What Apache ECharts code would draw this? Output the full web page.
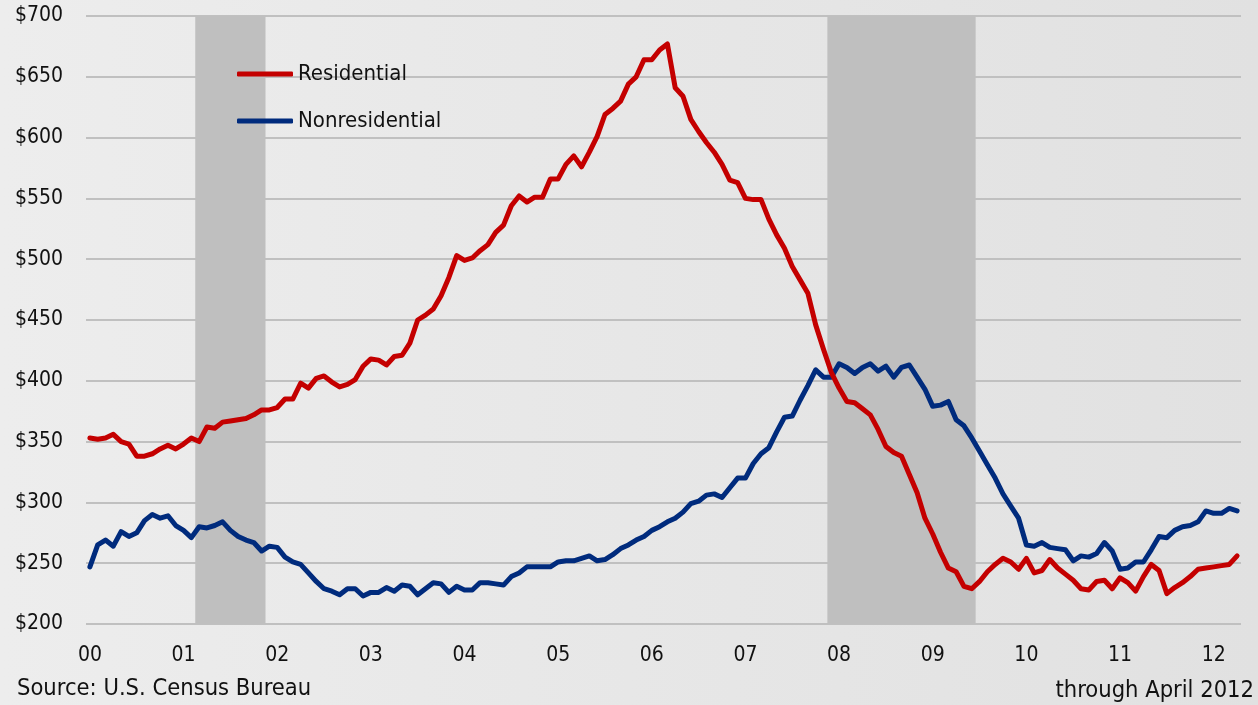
<!DOCTYPE html>
<html>
<head>
<meta charset="utf-8">
<script src="https://cdn.jsdelivr.net/npm/echarts@6/dist/echarts.min.js"></script>
<style>
html,body{margin:0;padding:0;background:#ebebeb;}
#chart{width:1258px;height:705px;}
</style>
</head>
<body>
<div id="chart"></div>
<script>
// Year labels (axis tick labels, Jan of each year)
var yearLabels = ['00','01','02','03','04','05','06','07','08','09','10','11','12'];
var lastYearMonths = 4; // data through April 2012

// Monthly construction spending, billions of dollars (Jan 2000 - Apr 2012)
var residential = [
  353,352,353,356,350,348,338,338,340,344,347,344,
  348,353,350,362,361,366,367,368,369,372,376,376,
  378,385,385,398,394,402,404,399,395,397,401,412,
  418,417,413,420,421,431,450,454,459,470,485,503,
  499,501,507,512,522,528,544,552,547,551,551,566,
  566,578,585,576,588,601,619,624,630,644,650,664,
  664,672,677,641,634,615,605,596,588,578,565,563,
  550,549,549,533,520,509,494,483,472,446,426,407,
  394,383,382,377,372,360,346,341,338,323,308,287,
  274,259,246,243,231,229,235,243,249,254,251,245,
  254,242,244,253,246,241,236,229,228,235,236,229,
  238,234,227,239,249,244,225,230,234,239,245,246,
  247,248,249,256
];
var nonresidential = [
  247,265,269,264,276,272,275,285,290,287,289,281,
  277,271,280,279,281,284,277,272,269,267,260,264,
  263,255,251,249,242,235,229,227,224,229,229,223,
  226,226,230,227,232,231,224,229,234,233,226,231,
  228,228,234,234,233,232,239,242,247,247,247,247,
  251,252,252,254,256,252,253,257,262,265,269,272,
  277,280,284,287,292,299,301,306,307,304,312,320,
  320,332,340,345,358,370,371,384,396,409,403,403,
  414,411,406,411,414,408,412,403,411,413,403,393,
  379,380,383,368,363,353,342,331,320,307,297,287,
  265,264,267,263,262,261,252,256,255,258,267,260,
  245,246,251,251,261,272,271,277,280,281,284,293,
  291,291,295,293
];
// Recessions (first month, last month)
var recessions = [['01-03','01-11'], ['07-12','09-06']];
var yTicks = [200, 700, 50]; // min, max, step

// month categories
var categories = [];
yearLabels.forEach(function (y, yi) {
  var n = (yi === yearLabels.length - 1) ? lastYearMonths : 12;
  for (var m = 1; m <= n; m++) {
    categories.push(m === 1 ? y : y + '-' + (m < 10 ? '0' + m : '' + m));
  }
});
function idxOf(label) {
  var p = label.split('-');
  return yearLabels.indexOf(p[0]) * 12 + (parseInt(p[1], 10) - 1);
}
var recessionAreas = recessions.map(function (r) {
  return [{ xAxis: idxOf(r[0]) - 0.5 }, { xAxis: idxOf(r[1]) + 0.5 }];
});

var FONT = '"DejaVu Sans Condensed", "DejaVu Sans", sans-serif';
var chart = echarts.init(document.getElementById('chart'), null, { renderer: 'canvas' });
chart.setOption({
  animation: false,
  backgroundColor: {
    type: 'linear', x: 0, y: 0, x2: 1, y2: 0,
    colorStops: [{ offset: 0, color: '#ededed' }, { offset: 1, color: '#e1e1e1' }]
  },
  textStyle: { fontFamily: FONT },
  grid: { left: 86, right: 17, top: 16, bottom: 81, containLabel: false },
  legend: {
    data: ['Residential', 'Nonresidential'],
    orient: 'vertical',
    left: 232, top: 57,
    icon: 'roundRect',
    itemWidth: 56, itemHeight: 5,
    itemGap: 23,
    textStyle: { fontFamily: FONT, fontSize: 22, color: '#111', lineHeight: 24 }
  },
  xAxis: [{
    type: 'category',
    data: categories,
    boundaryGap: true,
    axisLine: { show: false },
    axisTick: { show: false },
    splitLine: { show: false },
    axisLabel: {
      interval: 11,
      margin: 21,
      fontFamily: FONT, fontSize: 21, color: '#111'
    }
  }, {
    type: 'value',
    min: -0.5, max: categories.length - 0.5,
    show: false
  }],
  yAxis: {
    type: 'value',
    min: yTicks[0], max: yTicks[1], interval: yTicks[2],
    axisLine: { show: false },
    axisTick: { show: false },
    splitLine: { lineStyle: { color: '#c0c0c0', width: 2 } },
    axisLabel: {
      margin: 23,
      fontFamily: FONT, fontSize: 21, color: '#111',
      formatter: function (v) { return '$' + v; }
    }
  },
  series: [{
    name: 'recessions',
    type: 'line',
    xAxisIndex: 1,
    data: [],
    symbol: 'none',
    silent: true,
    markArea: {
      silent: true,
      itemStyle: { color: '#bfbfbf' },
      data: recessionAreas
    }
  }, {
    name: 'Nonresidential',
    type: 'line',
    data: nonresidential,
    symbol: 'none',
    color: '#002b7d',
    lineStyle: { color: '#002b7d', width: 5, cap: 'round', join: 'round' }
  }, {
    name: 'Residential',
    type: 'line',
    data: residential,
    symbol: 'none',
    color: '#c40000',
    lineStyle: { color: '#c40000', width: 5, cap: 'round', join: 'round' }
  }],
  graphic: [{
    type: 'text', left: 17, top: 677,
    style: { text: 'Source: U.S. Census Bureau', fontFamily: FONT, fontSize: 23.5, fill: '#111' }
  }, {
    type: 'text', right: 4, top: 679,
    style: { text: 'through April 2012', fontFamily: FONT, fontSize: 23.5, fill: '#111' }
  }]
});
</script>
</body>
</html>
